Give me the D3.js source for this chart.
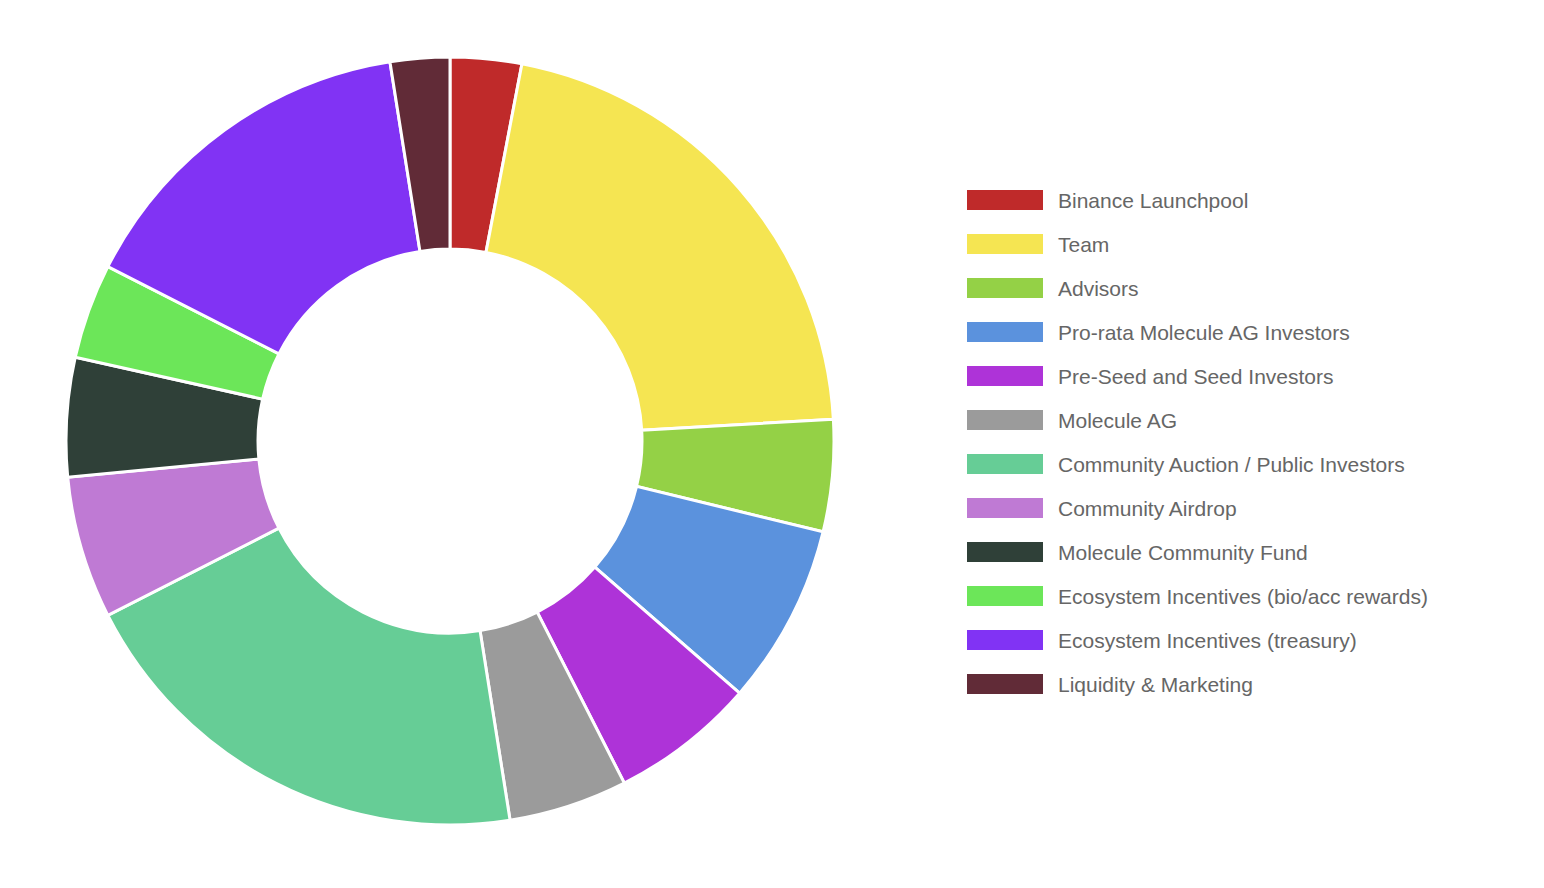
<!DOCTYPE html>
<html><head><meta charset="utf-8">
<script src="https://cdn.jsdelivr.net/npm/d3@7"></script>
<style>body{margin:0;background:#fff}</style>
</head><body>
<div id="chart"></div>
<script>
var labels = ["Binance Launchpool","Team","Advisors","Pro-rata Molecule AG Investors","Pre-Seed and Seed Investors","Molecule AG","Community Auction / Public Investors","Community Airdrop","Molecule Community Fund","Ecosystem Incentives (bio/acc rewards)","Ecosystem Incentives (treasury)","Liquidity & Marketing"];
var values = [3, 21.1, 4.7, 7.6, 6.1, 5, 20, 6, 5, 4, 15, 2.5];
var colors = ["#bf2a2a","#f5e552","#94d146","#5b92dd","#ae33d8","#9b9b9b","#66cd96","#bf7ad4","#2f4038","#6ce659","#8133f4","#612b37"];

var svg = d3.select("#chart").append("svg").attr("width",1544).attr("height",888);

var pie = d3.pie().sort(null).value((d)=>d.v);
var arc = d3.arc().innerRadius(192).outerRadius(384);
var data = labels.map((l,i)=>({l:l, v:values[i], c:colors[i]}));

svg.append("g").attr("transform","translate(450,441)")
  .selectAll("path").data(pie(data)).enter().append("path")
  .attr("d",arc).attr("fill",(d)=>d.data.c)
  .attr("stroke","#fff").attr("stroke-width",3);

var y = d3.scaleBand().domain(labels).range([178,706]);
var leg = svg.append("g").selectAll("g").data(data).enter().append("g")
  .attr("transform",(d)=>"translate(967,"+y(d.l)+")");
leg.append("rect").attr("width",76).attr("height",20).attr("y",12).attr("fill",(d)=>d.c);
leg.append("text").attr("x",91).attr("y",30).text((d)=>d.l)
  .style("font-family","Helvetica, Arial, 'Liberation Sans', sans-serif")
  .style("font-size","21px").attr("fill","#666");
</script>
</body></html>
